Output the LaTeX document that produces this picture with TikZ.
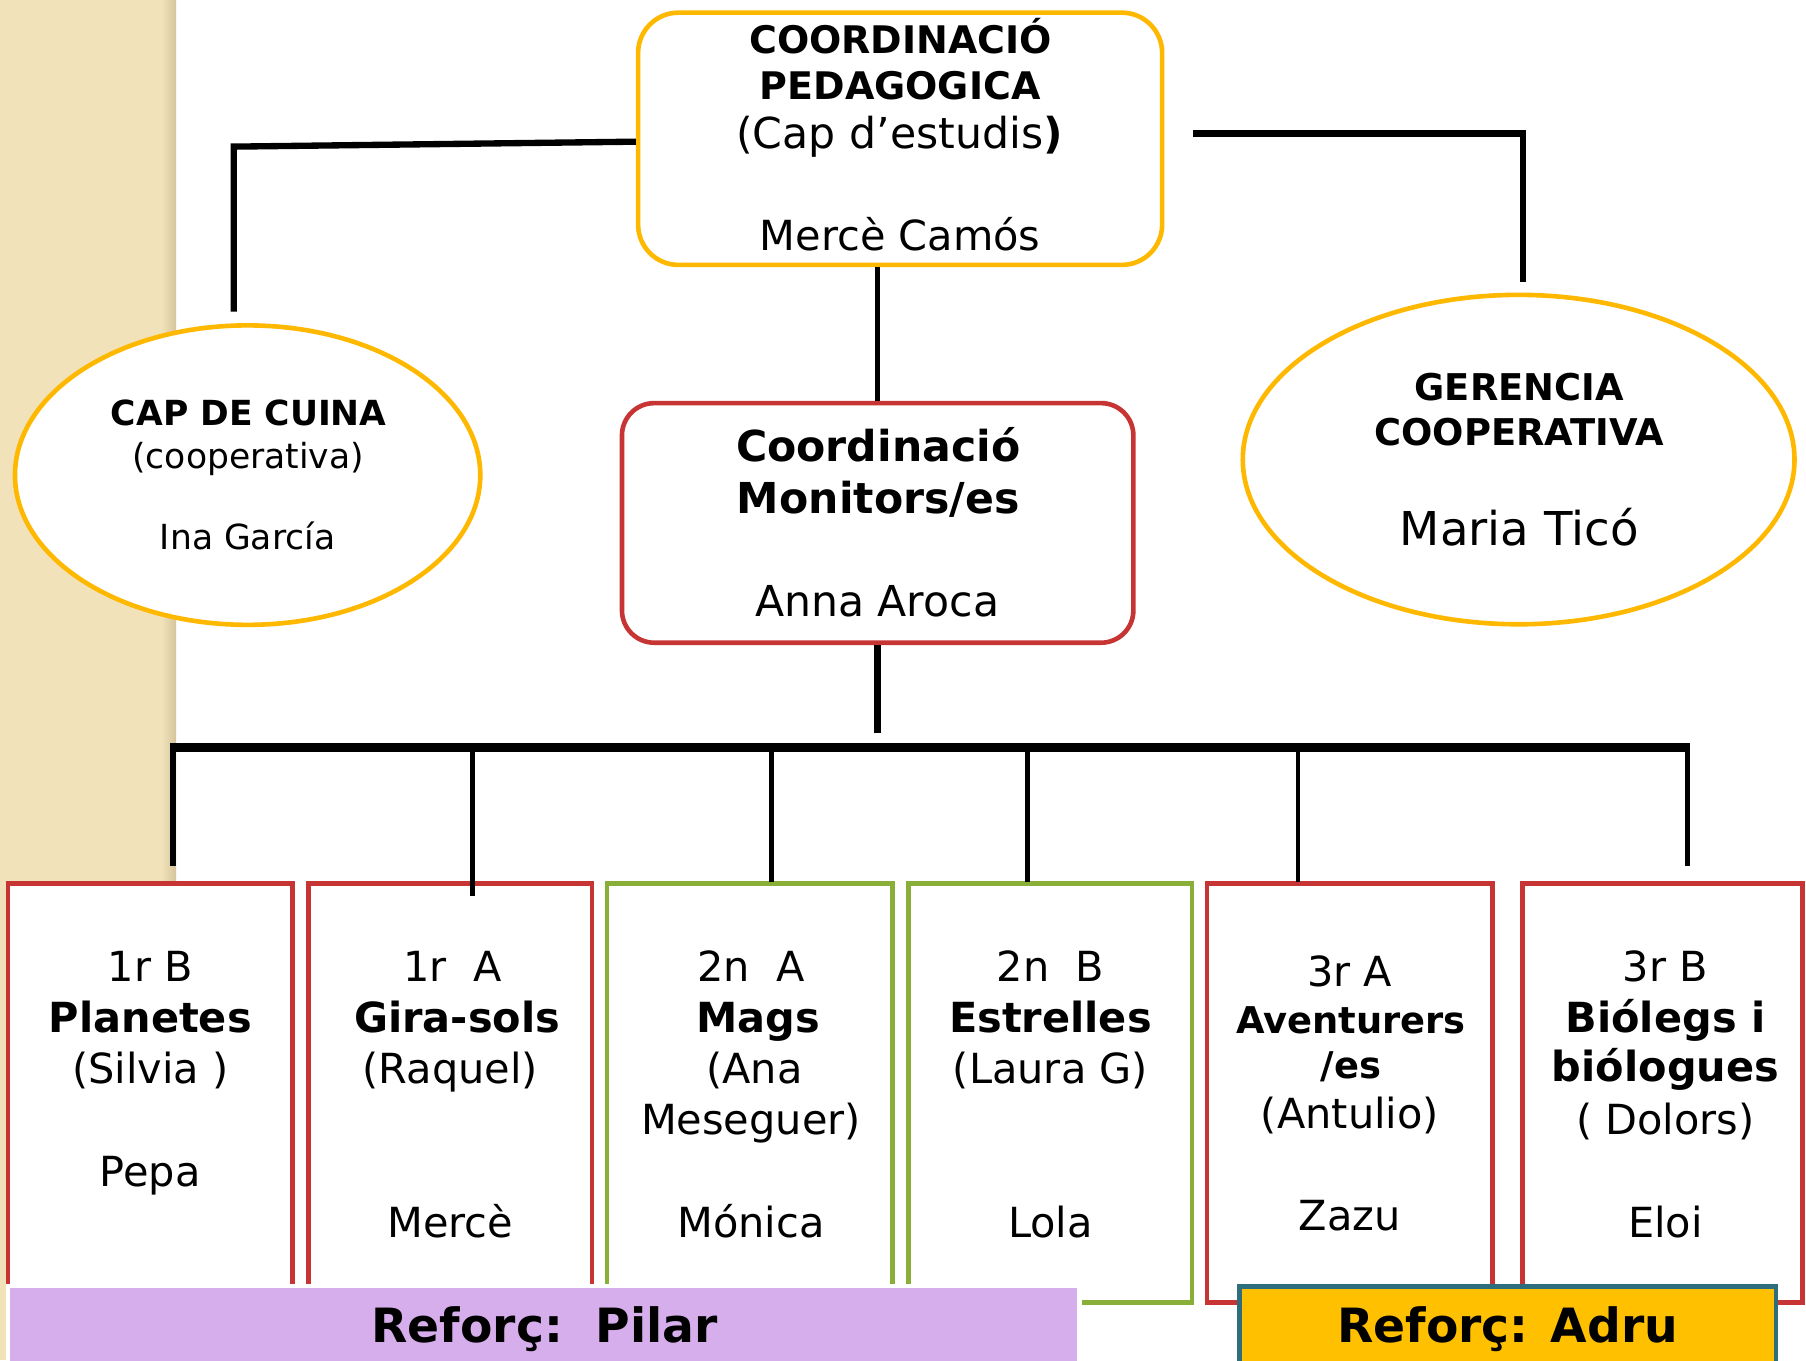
\documentclass[tikz,border=0pt]{standalone}
\usepackage{fontspec}
\setmainfont{DejaVu Sans}
\usetikzlibrary{shapes.geometric}
\definecolor{yel}{HTML}{FFB800}
\definecolor{redb}{HTML}{C73434}
\definecolor{grnb}{HTML}{8AAF38}
\definecolor{purp}{HTML}{D7AEEC}
\definecolor{adrufill}{HTML}{FFC000}
\definecolor{teal2}{HTML}{2E6D7E}
\definecolor{band}{HTML}{F2E2BA}
\definecolor{bandshade}{HTML}{D6C59C}
\begin{document}
\begin{tikzpicture}[x=1pt,y=-1pt,
  conn/.style={draw=black,line width=#1},
  lbl/.style={anchor=base,inner sep=0pt,font=\fontsize{#1}{#1}\selectfont},
  lblb/.style={anchor=base,inner sep=0pt,font=\fontsize{#1}{#1}\selectfont\bfseries},
  ovalbox/.style={ellipse,draw=yel,line width=4pt,fill=white,inner sep=0pt},
  headbox/.style={rectangle,rounded corners=#1,fill=white,line width=4pt,inner sep=0pt},
  classbox/.style={rectangle,draw=#1,fill=white,line width=4pt,inner sep=0pt,minimum height=364pt},
  barbox/.style={rectangle,inner sep=0pt,line width=4pt}
]
\useasboundingbox (0,0) rectangle (1568,1180.8);
% background band
\fill[white] (0,0) rectangle (1568,1180.8);
\fill[band] (0,0) rectangle (141,1180.8);
\shade[left color=band,right color=bandshade] (140,0) rectangle (153,1180.8);

% top nodes
\node[headbox=35pt,draw=yel,minimum width=455pt,minimum height=219pt] (tb) at (781.5,120.5) {};
\node[ovalbox,minimum width=404pt,minimum height=260pt] (lel) at (215,412.5) {};
\node[ovalbox,minimum width=479pt,minimum height=286pt] (rel) at (1318.5,399) {};
\node[headbox=28pt,draw=redb,minimum width=444pt,minimum height=208pt] (cb) at (762,454) {};

% class boxes
\node[classbox=redb,minimum width=247pt] (b1) at (130.5,949) {};
\node[classbox=redb,minimum width=246pt] (b2) at (391,949) {};
\node[classbox=grnb,minimum width=248pt] (b3) at (651,949) {};
\node[classbox=grnb,minimum width=246pt] (b4) at (912,949) {};
\node[classbox=redb,minimum width=248pt] (b5) at (1172,949) {};
\node[classbox=redb,minimum width=243pt] (b6) at (1443.5,949) {};

% reinforcement bars
\node[barbox,fill=purp,draw=white,minimum width=930pt,minimum height=73.5pt] (pbar) at (472,1153.25) {};
\node[barbox,fill=adrufill,draw=teal2,minimum width=466pt,minimum height=73pt] (abar) at (1309,1153.5) {};

% connectors
\coordinate (lc1) at (203,127.3);
\coordinate (lc2) at (203,270.6);
\draw[conn=5.5pt] ([yshift=-2.5pt]tb.west) -- (lc1) -- (lc2);
\coordinate (rc0) at (1036,115.8);
\coordinate (rc1) at (1322,115.8);
\coordinate (rc2) at (1322,244.6);
\draw[conn=5.5pt] (rc0) -- (rc1) -- (rc2);
\draw[conn=4.5pt] (cb.north) -- (cb.north |- tb.south);
\coordinate (cm) at (762,636);
\draw[conn=6pt] (cb.south) -- (cm);
\coordinate (busL) at (147.5,649);
\coordinate (busR) at (1467.5,649);
\draw[conn=7pt] (busL) -- (busR);
\coordinate (d1t) at (150,649);   \coordinate (d1b) at (150,752);
\coordinate (d2t) at (410,649);   \coordinate (d2b) at (410,778);
\coordinate (d3t) at (670,649);   \coordinate (d3b) at (670,766);
\coordinate (d4t) at (892,649);   \coordinate (d4b) at (892,766);
\coordinate (d5t) at (1127,649);  \coordinate (d5b) at (1127,766);
\coordinate (d6t) at (1465,649);  \coordinate (d6b) at (1465,752);
\draw[conn=5pt] (d1t) -- (d1b);
\draw[conn=4pt] (d2t) -- (d2b);
\draw[conn=4.5pt] (d3t) -- (d3b);
\draw[conn=4pt] (d4t) -- (d4b);
\draw[conn=4pt] (d5t) -- (d5b);
\draw[conn=5pt] (d6t) -- (d6b);

% texts: top box
\node[lblb=33] (t1) at (782,46.3) {COORDINACIÓ};
\node[lblb=33] (t2) at (781.5,86) {PEDAGOGICA};
\node[lbl=37] (t3) at (781,128.8) {(Cap d’estudis\textbf{)}};
\node[lbl=36] (t4) at (781.5,217.6) {Mercè Camós};
% left ellipse
\node[lblb=30] (l1) at (216,369) {CAP DE CUINA};
\node[lbl=30] (l2) at (215.5,406.6) {(cooperativa)};
\node[lbl=30] (l3) at (215,477.5) {Ina García};
% right ellipse
\node[lblb=32] (r1) at (1319,347.3) {GERENCIA};
\node[lblb=32] (r2) at (1319,386.4) {COOPERATIVA};
\node[lbl=40.5] (r3) at (1319,474) {Maria Ticó};
% centre box
\node[lblb=37] (c1) at (762.5,401) {Coordinació};
\node[lblb=37] (c2) at (762.5,445.7) {Monitors/es};
\node[lbl=37] (c3) at (761.5,535.4) {Anna Aroca};
% box 1
\node[lbl=36] (b1a) at (130.5,852.3) {1r B};
\node[lblb=36] (b1b) at (130.5,896.6) {Planetes};
\node[lbl=36] (b1c) at (130.5,940.6) {(Silvia~)};
\node[lbl=36] (b1d) at (130.5,1030.3) {Pepa};
% box 2
\node[lbl=36] (b2a) at (393,852.3) {1r~~A};
\node[lblb=36] (b2b) at (397,896.6) {Gira-sols};
\node[lbl=36] (b2c) at (391,940.6) {(Raquel)};
\node[lbl=36] (b2d) at (391,1074.3) {Mercè};
% box 3
\node[lbl=36] (b3a) at (652,852.3) {2n~~A};
\node[lblb=36] (b3b) at (658,896.6) {Mags};
\node[lbl=36] (b3c) at (655,940.6) {(Ana};
\node[lbl=36] (b3d) at (652,985.4) {Meseguer)};
\node[lbl=36] (b3e) at (652,1074.3) {Mónica};
% box 4
\node[lbl=36] (b4a) at (912,852.3) {2n~~B};
\node[lblb=36] (b4b) at (912,896.6) {Estrelles};
\node[lbl=36] (b4c) at (912,940.6) {(Laura G)};
\node[lbl=36] (b4d) at (912,1074.3) {Lola};
% box 5
\node[lbl=36] (b5a) at (1172,856.6) {3r A};
\node[lblb=32] (b5b) at (1173,897.2) {Aventurers};
\node[lblb=32] (b5c) at (1173,936.2) {/es};
\node[lbl=36] (b5d) at (1172,979.6) {(Antulio)};
\node[lbl=36] (b5e) at (1172,1068.5) {Zazu};
% box 6
\node[lbl=36] (b6a) at (1446,852.3) {3r B};
\node[lblb=36] (b6b) at (1446,896.6) {Biólegs i};
\node[lblb=36] (b6c) at (1446,939) {biólogues};
\node[lbl=36] (b6d) at (1446,985.4) {(~Dolors)};
\node[lbl=36] (b6e) at (1446,1074.3) {Eloi};
% bars text
\node[lblb=41] (pt) at (473,1165.7) {Reforç:~~Pilar};
\node[lblb=41] (at) at (1309,1165.7) {Reforç: Adru};
\end{tikzpicture}
\end{document}
